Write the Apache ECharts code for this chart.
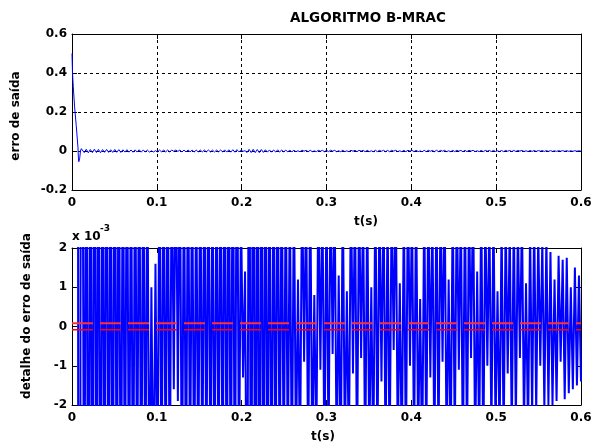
<!DOCTYPE html>
<html><head><meta charset="utf-8">
<script src="https://cdn.jsdelivr.net/npm/echarts@6/dist/echarts.min.js"></script>
<style>html,body{margin:0;padding:0;background:#fff}#c{width:597px;height:443px}</style>
</head><body><div id="c"></div>
<script>
// ---- data (erro de saída, in units of 10^-3) ----
const transTime = [0, 0.0005, 0.001, 0.0015, 0.002, 0.003, 0.004, 0.005, 0.006, 0.007, 0.0075, 0.008, 0.009, 0.010, 0.011];
const transErroMilli = [500, 410, 400, 330, 320, 230, 220, 130, 120, 20, -30, -55, -40, 0, 12];
const oscStart = 0.012;
const oscStep = 0.0024;
const oscErroMilli = [
  9.4, -8.1, 8.7, -9.2, 7.5, -8.3, 9.1, -7.8, 8.2, -8.9,
  7.3, -6.8, 7.9, -7.1, 6.4, -7.2, 7.6, -6.5, 6.9, -7.4,
  6.2, -5.7, 6.6, -6.0, 5.3, -6.4, 5.8, -5.4, 6.3, -6.1,
  5.6, -5.1, 4.8, -5.5, 1.0, -4.9, 1.6, -4.7, 5.2, -5.0,
  5.4, -4.6, 5.1, -4.8, 4.7, -1.6, 5.0, -1.9, 4.9, -5.2,
  4.6, -4.9, 5.3, -4.5, 4.8, -5.1, 4.4, -4.7, 5.0, -4.6,
  4.9, -4.4, 5.2, -4.8, 4.5, -5.0, 4.7, -4.3, 5.1, -4.9,
  5.8, -5.5, 6.2, -5.9, 6.6, -6.1, 6.9, -4.2, 3.1, -1.3,
  1.4, -7.5, 8.4, -7.9, 8.8, -8.2, 7.6, -8.5, 7.9, -7.2,
  6.4, -5.8, 5.5, -6.0, 5.2, -4.9, 5.6, -4.7, 4.8, -4.4,
  4.1, -3.9, 3.6, -4.2, 3.8, -3.5, 1.2, -3.7, 3.9, -0.9,
  3.4, -3.8, 4.0, -3.6, 0.8, -3.3, 3.7, -1.1, 3.5, -3.9,
  3.6, -3.4, 3.9, -0.7, 3.3, -3.6, 1.3, -3.8, 3.7, -3.2,
  0.9, -3.5, 3.8, -1.2, 3.4, -3.7, 3.6, -0.8, 3.2, -3.9,
  3.5, -3.3, 1.0, -3.6, 3.8, -3.4, 3.3, -1.4, 3.6, -3.5,
  3.1, -3.7, 3.4, -0.6, 3.7, -3.2, 1.1, -3.5, 3.3, -3.6,
  3.8, -1.0, 3.2, -3.4, 3.6, -3.1, 0.7, -3.7, 3.4, -3.3,
  3.5, -1.3, 3.1, -3.6, 3.7, -3.2, 3.3, -0.9, 3.6, -3.4,
  1.2, -3.5, 3.4, -3.1, 3.6, -1.1, 3.2, -3.7, 3.5, -3.3,
  3.3, -0.8, 3.7, -3.4, 1.4, -3.2, 3.4, -3.6, 3.1, -1.0,
  2.9, -2.8, 3.1, -2.6, 0.9, -2.9, 2.7, -3.0, 2.8, -1.2,
  2.6, -2.9, 3.0, -2.5, 2.7, -0.8, 2.9, -2.6, 1.1, -2.8,
  2.5, -2.3, 2.8, -2.2, 2.4, -1.0, 2.2, -2.1, 2.3, -2.0,
  1.9, -2.0, 1.2, -1.9, 1.8, -0.9, 1.7, -1.85, 1.75, -1.7,
  1.0, -1.6, 1.5, -1.5, 1.3, -1.4
];
const detailLimitsMilli = [0.08, -0.08];
const xRange = [0, 0.6];
const topYRange = [-0.2, 0.6];
const bottomYRange = [-2, 2];

// ---- build ----
const pts = [];
transTime.forEach((t, i) => pts.push([t, transErroMilli[i]]));
oscErroMilli.forEach((v, i) => pts.push([oscStart + i * oscStep, v]));
const topData = pts.map(p => [p[0], p[1] / 1000]);
const bottomData = pts.map(p => [p[0], p[1]]);

const FONT = 'DejaVu Sans';
const lbl = { color: '#000', fontFamily: FONT, fontWeight: 'bold', fontSize: 12 };
const fmt1 = v => Math.abs(v) < 1e-9 ? '0' : (Math.round(v * 10) / 10).toFixed(1);
const fmt0 = v => Math.abs(v) < 1e-9 ? '0' : String(Math.round(v));
const axLine = { show: true, onZero: false, lineStyle: { color: '#000', width: 1 } };
const tick = { show: true, inside: true, length: 5, lineStyle: { color: '#000' } };

function xAx(grid, pos, labels, split) {
  return { type: 'value', gridIndex: grid, position: pos, min: xRange[0], max: xRange[1], interval: 0.1,
    axisLine: axLine, axisTick: tick,
    axisLabel: labels ? Object.assign({ margin: 7, formatter: fmt1 }, lbl) : { show: false },
    splitLine: split ? { show: true, lineStyle: { color: '#000', type: [3, 3], width: 1 } } : { show: false } };
}
function yAx(grid, pos, range, itv, fmt, labels, split) {
  return { type: 'value', gridIndex: grid, position: pos, min: range[0], max: range[1], interval: itv,
    axisLine: axLine, axisTick: tick,
    axisLabel: labels ? Object.assign({ margin: 5, formatter: fmt }, lbl) : { show: false },
    splitLine: split ? { show: true, lineStyle: { color: '#000', type: [3, 3], width: 1 } } : { show: false } };
}

const chart = echarts.init(document.getElementById('c'), null, { renderer: 'canvas' });
chart.setOption({
  animation: false,
  backgroundColor: '#fff',
  grid: [
    { left: 72, top: 34, width: 509, height: 156 },
    { left: 72, top: 248, width: 509, height: 157 }
  ],
  xAxis: [
    xAx(0, 'bottom', true, true),
    xAx(1, 'bottom', true, false),
    xAx(0, 'top', false, false),
    xAx(1, 'top', false, false)
  ],
  yAxis: [
    yAx(0, 'left', topYRange, 0.2, fmt1, true, true),
    yAx(1, 'left', bottomYRange, 1, fmt0, true, false),
    yAx(0, 'right', topYRange, 0.2, fmt1, false, false),
    yAx(1, 'right', bottomYRange, 1, fmt0, false, false)
  ],
  series: [
    { type: 'line', xAxisIndex: 0, yAxisIndex: 0, data: topData, showSymbol: false, clip: true,
      lineStyle: { color: '#0000ff', width: 1 } },
    { type: 'line', xAxisIndex: 1, yAxisIndex: 1, data: bottomData, showSymbol: false, clip: true, z: 2,
      lineStyle: { color: '#0000ff', width: 2 } },
    { type: 'line', xAxisIndex: 1, yAxisIndex: 1, data: [[xRange[0], detailLimitsMilli[0]], [xRange[1], detailLimitsMilli[0]]],
      showSymbol: false, z: 10, lineStyle: { color: '#ff3030', width: 2, type: [21, 7] } },
    { type: 'line', xAxisIndex: 1, yAxisIndex: 1, data: [[xRange[0], detailLimitsMilli[1]], [xRange[1], detailLimitsMilli[1]]],
      showSymbol: false, z: 10, lineStyle: { color: '#ff0000', width: 1.5, type: [21, 7] } }
  ],
  graphic: [
    { type: 'text', x: 368, y: 18, style: { text: 'ALGORITMO B-MRAC', fill: '#000', font: 'bold 13.5px "DejaVu Sans"', textAlign: 'center', textVerticalAlign: 'middle' } },
    { type: 'text', x: 16, y: 116, rotation: Math.PI / 2, style: { text: 'erro de saída', fill: '#000', font: 'bold 12px "DejaVu Sans"', textAlign: 'center', textVerticalAlign: 'middle' } },
    { type: 'text', x: 27, y: 316, rotation: Math.PI / 2, style: { text: 'detalhe do erro de saída', fill: '#000', font: 'bold 12px "DejaVu Sans"', textAlign: 'center', textVerticalAlign: 'middle' } },
    { type: 'text', x: 366, y: 222, style: { text: 't(s)', fill: '#000', font: 'bold 12px "DejaVu Sans"', textAlign: 'center', textVerticalAlign: 'middle' } },
    { type: 'text', x: 323, y: 437, style: { text: 't(s)', fill: '#000', font: 'bold 12px "DejaVu Sans"', textAlign: 'center', textVerticalAlign: 'middle' } },
    { type: 'text', x: 72, y: 237, style: { text: 'x 10', fill: '#000', font: 'bold 12px "DejaVu Sans"', textAlign: 'left', textVerticalAlign: 'middle' } },
    { type: 'text', x: 100, y: 229, style: { text: '-3', fill: '#000', font: 'bold 9px "DejaVu Sans"', textAlign: 'left', textVerticalAlign: 'middle' } }
  ]
});
</script>
</body></html>
